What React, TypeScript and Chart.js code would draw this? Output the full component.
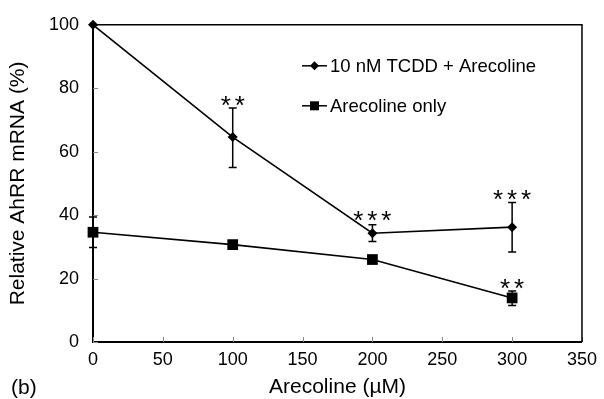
import React, { useEffect, useRef } from 'react';
import { Chart, registerables } from 'chart.js';

Chart.register(...registerables);

// ---- data ----
const doses = [0, 100, 200, 300];
const tcddValues = [100, 64.6, 34.3, 36.2];
const tcddLow = [null, 55.0, 31.7, 28.4];
const tcddHigh = [null, 73.8, 37.0, 44.0];
const arecValues = [34.6, 30.7, 26.0, 13.9];
const arecLow = [29.8, null, null, 11.5];
const arecHigh = [39.4, null, null, 16.1];
const sigX = [100, 200, 300, 300];
const sigY = [76.0, 39.7, 46.2, 18.2];
const sigText = ['**', '***', '***', '**'];
const xTicks = [0, 50, 100, 150, 200, 250, 300, 350];
const yTicks = [0, 20, 40, 60, 80, 100];
const seriesLabels = ['10 nM TCDD + Arecoline', 'Arecoline only'];

const FONT = '"Liberation Sans", Arial, Helvetica, sans-serif';

const errorBarPlugin = {
  id: 'errorBars',
  beforeDatasetsDraw(chart: any) {
    const { ctx, scales } = chart;
    const sets = [
      { low: tcddLow, high: tcddHigh },
      { low: arecLow, high: arecHigh },
    ];
    ctx.save();
    ctx.strokeStyle = '#000';
    ctx.lineWidth = 1.5;
    sets.forEach((s) => {
      doses.forEach((d, i) => {
        const lo = s.low[i];
        const hi = s.high[i];
        if (lo == null || hi == null) return;
        const x = scales.x.getPixelForValue(d);
        const y1 = scales.y.getPixelForValue(hi);
        const y2 = scales.y.getPixelForValue(lo);
        ctx.beginPath();
        ctx.moveTo(x, y1);
        ctx.lineTo(x, y2);
        ctx.moveTo(x - 4, y1);
        ctx.lineTo(x + 4, y1);
        ctx.moveTo(x - 4, y2);
        ctx.lineTo(x + 4, y2);
        ctx.stroke();
      });
    });
    ctx.restore();
  },
};

const framePlugin = {
  id: 'frame',
  beforeDatasetsDraw(chart: any) {
    const { ctx, chartArea, scales } = chart;
    ctx.save();
    // inner tick marks
    ctx.strokeStyle = '#8a8a8a';
    ctx.lineWidth = 1;
    ctx.beginPath();
    xTicks.forEach((v) => {
      const x = Math.round(scales.x.getPixelForValue(v)) + 0.5;
      ctx.moveTo(x, chartArea.bottom);
      ctx.lineTo(x, chartArea.bottom - 5);
    });
    yTicks.forEach((v) => {
      const y = Math.round(scales.y.getPixelForValue(v)) + 0.5;
      ctx.moveTo(chartArea.left, y);
      ctx.lineTo(chartArea.left + 5, y);
    });
    ctx.stroke();
    // top and right frame
    ctx.strokeStyle = '#000';
    ctx.lineWidth = 1.5;
    ctx.beginPath();
    ctx.moveTo(chartArea.left, chartArea.top);
    ctx.lineTo(chartArea.right, chartArea.top);
    ctx.lineTo(chartArea.right, chartArea.bottom);
    ctx.stroke();
    ctx.restore();
  },
};

const sigPlugin = {
  id: 'sig',
  afterDatasetsDraw(chart: any) {
    const { ctx, scales } = chart;
    ctx.save();
    ctx.fillStyle = '#000';
    ctx.font = `26px ${FONT}`;
    ctx.textAlign = 'center';
    ctx.textBaseline = 'alphabetic';
    const m = ctx.measureText('*');
    const off = (m.actualBoundingBoxAscent - m.actualBoundingBoxDescent) / 2;
    const spacing = 14;
    sigX.forEach((xv, i) => {
      const cx = scales.x.getPixelForValue(xv);
      const cy = scales.y.getPixelForValue(sigY[i]);
      const n = sigText[i].length;
      for (let k = 0; k < n; k++) {
        const x = cx + (k - (n - 1) / 2) * spacing;
        ctx.fillText('*', x, cy + off);
      }
    });
    ctx.restore();
  },
};

const legendPlugin = {
  id: 'customLegend',
  afterDraw(chart: any) {
    const { ctx, chartArea } = chart;
    ctx.save();
    chart.data.datasets.forEach((ds: any, i: number) => {
      const y = chartArea.top + 41 + i * 40;
      const x0 = chartArea.left + 209;
      ctx.strokeStyle = '#000';
      ctx.lineWidth = 1.5;
      ctx.beginPath();
      ctx.moveTo(x0, y);
      ctx.lineTo(x0 + 25, y);
      ctx.stroke();
      ctx.fillStyle = '#000';
      const mx = x0 + 12.5;
      if (ds.pointStyle === 'rectRot') {
        const r = 4.5;
        ctx.beginPath();
        ctx.moveTo(mx - r, y);
        ctx.lineTo(mx, y - r);
        ctx.lineTo(mx + r, y);
        ctx.lineTo(mx, y + r);
        ctx.closePath();
        ctx.fill();
      } else {
        const h = 4.5;
        ctx.fillRect(mx - h, y - h, 2 * h, 2 * h);
      }
      ctx.font = `18.5px ${FONT}`;
      ctx.textAlign = 'left';
      ctx.textBaseline = 'middle';
      ctx.fillText(ds.label, x0 + 28, y + 1);
    });
    // panel label
    ctx.font = `21px ${FONT}`;
    ctx.textAlign = 'left';
    ctx.textBaseline = 'middle';
    ctx.fillText('(b)', 11, 388);
    ctx.restore();
  },
};

export default function App() {
  const ref = useRef<HTMLCanvasElement | null>(null);
  useEffect(() => {
    if (!ref.current) return;
    const chart = new Chart(ref.current, {
      type: 'line',
      data: {
        datasets: [
          {
            label: seriesLabels[0],
            data: doses.map((d, i) => ({ x: d, y: tcddValues[i] })),
            borderColor: '#000',
            backgroundColor: '#000',
            borderWidth: 1.6,
            pointStyle: 'rectRot',
            pointRadius: 5,
            pointHoverRadius: 5,
            pointBorderWidth: 0,
            tension: 0,
            clip: false,
          },
          {
            label: seriesLabels[1],
            data: doses.map((d, i) => ({ x: d, y: arecValues[i] })),
            borderColor: '#000',
            backgroundColor: '#000',
            borderWidth: 1.6,
            pointStyle: 'rect',
            pointRadius: 7.6,
            pointHoverRadius: 7.6,
            pointBorderWidth: 0,
            tension: 0,
            clip: false,
          },
        ],
      },
      options: {
        responsive: false,
        animation: false,
        events: [],
        layout: { padding: { top: 20, right: 14, left: 0, bottom: 0 } },
        plugins: {
          legend: { display: false },
          tooltip: { enabled: false },
        },
        scales: {
          x: {
            type: 'linear',
            min: 0,
            max: 350,
            afterBuildTicks: (s: any) => {
              s.ticks = xTicks.map((v) => ({ value: v }));
            },
            afterFit: (s: any) => {
              s.height = 57;
            },
            grid: { display: false, drawTicks: false },
            border: { display: true, color: '#000', width: 2 },
            ticks: {
              color: '#000',
              font: { family: FONT, size: 18 },
              padding: 7,
              maxRotation: 0,
              autoSkip: false,
            },
            title: {
              display: true,
              text: 'Arecoline (µM)',
              color: '#000',
              font: { family: FONT, size: 21, lineHeight: 1 },
              padding: { top: 0, bottom: 1 },
            },
          },
          y: {
            type: 'linear',
            min: 0,
            max: 100,
            afterBuildTicks: (s: any) => {
              s.ticks = yTicks.map((v) => ({ value: v }));
            },
            afterFit: (s: any) => {
              s.width = 93;
            },
            grid: { display: false, drawTicks: false },
            border: { display: true, color: '#000', width: 2 },
            ticks: {
              color: '#000',
              font: { family: FONT, size: 18 },
              padding: 14,
            },
            title: {
              display: true,
              text: 'Relative AhRR mRNA (%)',
              color: '#000',
              font: { family: FONT, size: 21, lineHeight: 1 },
              padding: { top: 8, bottom: 0 },
            },
          },
        },
      },
      plugins: [framePlugin, errorBarPlugin, sigPlugin, legendPlugin],
    } as any);
    return () => chart.destroy();
  }, []);
  return (
    <div style={{ position: 'fixed', left: 0, top: 0, width: 604, height: 399, background: '#fff' }}>
      <canvas ref={ref} width={604} height={399} style={{ display: 'block' }} />
    </div>
  );
}
